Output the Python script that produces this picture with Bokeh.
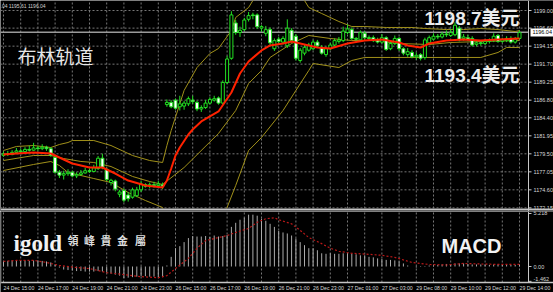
from bokeh.plotting import figure
from bokeh.layouts import column
from bokeh.models import Range1d, Label, ColumnDataSource
from bokeh.embed import file_html
from bokeh.resources import INLINE
from bokeh.core.properties import value

# ---------------- data (15-minute bars) ----------------
opens = [1179.3, 1179.5, 1179.4, 1179.7, 1179.9, 1179.8, 1180.1, 1180.0, 1180.3, 1180.2,
         1180.4, 1180.2, 1179.0, 1177.0, 1176.6, 1176.8, 1177.0, 1176.5, 1176.7, 1176.9,
         1177.2, 1177.1, 1177.5, 1178.9, 1177.4, 1175.6, 1175.8, 1174.0, 1174.5, 1173.9,
         1173.6, 1173.8, 1174.6, 1175.3, 1175.1, 1175.3, 1175.2, 1175.3,
         1186.2, 1186.5, 1186.8, 1185.9, 1186.0, 1186.3, 1186.8, 1186.5, 1185.6, 1185.8,
         1186.4, 1186.8, 1187.1, 1186.4, 1189.2, 1192.5, 1197.3, 1196.0, 1196.4, 1197.8,
         1198.4, 1198.4, 1196.6, 1195.9, 1196.4, 1193.8, 1195.1, 1194.7, 1194.2, 1196.3,
         1195.5, 1192.2, 1193.2, 1193.6, 1193.8, 1194.7, 1194.0, 1193.0, 1193.8, 1194.3,
         1194.8, 1194.9, 1196.0, 1196.4, 1195.2, 1195.0, 1195.9, 1195.3, 1195.3, 1195.0,
         1194.7, 1195.3, 1193.8, 1194.5, 1195.2, 1193.8, 1193.0, 1193.3, 1192.7, 1193.0,
         1192.6, 1194.6, 1195.1, 1195.5, 1195.4, 1195.8, 1195.6, 1195.7, 1196.6, 1195.2,
         1195.3, 1195.2, 1194.4, 1194.6, 1194.5, 1194.8, 1194.9, 1195.6, 1194.8, 1194.9,
         1195.2, 1194.7, 1195.2]
highs = [1179.8, 1179.9, 1180.0, 1180.3, 1180.2, 1180.4, 1180.6, 1181.0, 1180.6, 1180.8,
         1180.6, 1180.4, 1179.2, 1177.3, 1177.2, 1177.4, 1177.2, 1177.0, 1177.3, 1177.6,
         1177.5, 1178.0, 1179.2, 1179.5, 1177.6, 1176.1, 1176.0, 1174.6, 1174.8, 1174.3,
         1174.9, 1175.0, 1175.8, 1175.5, 1175.6, 1175.7, 1175.8, 1175.6,
         1186.9, 1186.8, 1187.0, 1187.4, 1186.7, 1187.3, 1187.4, 1186.7, 1186.1, 1186.8,
         1187.2, 1187.4, 1187.3, 1189.5, 1192.8, 1198.9, 1197.7, 1196.8, 1198.0, 1198.8,
         1198.7, 1198.6, 1197.0, 1196.9, 1196.7, 1195.2, 1195.4, 1195.5, 1197.8, 1196.6,
         1195.8, 1193.9, 1194.3, 1194.6, 1195.0, 1195.0, 1194.3, 1194.1, 1194.6, 1195.2,
         1195.4, 1196.8, 1197.1, 1196.7, 1195.4, 1196.3, 1196.2, 1195.6, 1195.6, 1195.3,
         1195.8, 1195.5, 1194.9, 1195.6, 1195.4, 1194.0, 1193.9, 1193.6, 1193.3, 1193.2,
         1195.3, 1195.6, 1195.9, 1195.8, 1196.1, 1196.3, 1196.5, 1197.4, 1196.9, 1195.8,
         1195.7, 1195.5, 1194.9, 1194.9, 1195.1, 1195.2, 1195.9, 1195.8, 1195.3, 1195.5,
         1195.5, 1195.4, 1196.3]
lows = [1179.1, 1179.2, 1179.3, 1179.5, 1179.6, 1179.7, 1179.8, 1179.9, 1179.9, 1180.0,
        1179.9, 1179.1, 1176.8, 1176.2, 1176.0, 1176.5, 1176.3, 1176.2, 1176.5, 1176.8,
        1176.9, 1177.0, 1177.3, 1177.4, 1175.8, 1175.2, 1174.4, 1173.6, 1172.9, 1173.0,
        1173.4, 1173.6, 1174.3, 1174.9, 1174.8, 1174.9, 1175.0, 1174.7,
        1185.9, 1185.7, 1185.5, 1185.4, 1185.5, 1186.0, 1186.3, 1185.3, 1185.2, 1185.6,
        1186.2, 1186.6, 1186.2, 1186.2, 1189.0, 1192.3, 1195.7, 1195.4, 1196.2, 1197.5,
        1197.8, 1196.5, 1196.1, 1195.5, 1194.3, 1193.5, 1194.5, 1194.4, 1193.9, 1194.6,
        1192.2, 1191.9, 1192.9, 1193.4, 1193.6, 1194.0, 1193.0, 1192.7, 1193.6, 1194.1,
        1194.5, 1194.7, 1195.8, 1195.0, 1194.9, 1194.8, 1195.1, 1194.9, 1194.7, 1194.5,
        1194.5, 1193.5, 1193.6, 1194.3, 1193.5, 1192.9, 1192.7, 1192.5, 1192.3, 1192.2,
        1192.3, 1194.3, 1194.9, 1195.1, 1195.2, 1195.4, 1195.4, 1195.5, 1194.8, 1194.9,
        1194.9, 1194.1, 1194.1, 1194.2, 1194.3, 1194.5, 1194.7, 1194.6, 1194.6, 1194.7,
        1194.5, 1194.5, 1195.0]
closes = [1179.5, 1179.4, 1179.7, 1179.9, 1179.8, 1180.1, 1180.0, 1180.3, 1180.2, 1180.4,
          1180.2, 1179.3, 1177.0, 1176.6, 1176.8, 1177.0, 1176.5, 1176.7, 1176.9, 1177.2,
          1177.1, 1177.6, 1178.9, 1177.6, 1176.0, 1175.9, 1174.7, 1174.3, 1173.2, 1173.4,
          1174.6, 1174.6, 1175.4, 1175.1, 1175.3, 1175.2, 1175.4, 1175.1,
          1186.5, 1185.9, 1185.7, 1186.3, 1186.4, 1187.0, 1186.6, 1185.6, 1185.8, 1186.4,
          1186.9, 1187.0, 1186.4, 1189.2, 1192.4, 1198.4, 1196.0, 1196.3, 1197.7, 1198.3,
          1198.3, 1196.8, 1196.8, 1196.4, 1194.6, 1194.9, 1194.8, 1195.2, 1196.6, 1194.9,
          1192.5, 1193.6, 1194.0, 1194.3, 1194.7, 1194.2, 1193.2, 1193.8, 1194.3, 1194.9,
          1195.0, 1196.2, 1196.5, 1195.2, 1195.1, 1196.0, 1195.3, 1195.2, 1194.9, 1194.7,
          1195.3, 1193.7, 1194.5, 1195.2, 1193.8, 1193.2, 1193.4, 1192.7, 1192.9, 1192.5,
          1195.0, 1195.3, 1195.5, 1195.4, 1195.8, 1195.7, 1196.0, 1197.0, 1195.0, 1195.4,
          1195.1, 1194.3, 1194.6, 1194.5, 1194.8, 1194.9, 1195.5, 1194.8, 1195.0, 1195.2,
          1194.7, 1195.1, 1196.0]

# fast moving average (red), read at bar indices
ma_idx = [0, 3, 7, 11, 13, 16, 20, 23, 26, 29, 33, 37, 38, 39, 40, 41, 43, 44, 46, 50, 53, 55,
          57, 60, 62, 65, 67, 69, 73, 76, 80, 84, 88, 92, 94, 97, 99, 103, 107, 111, 115, 120]
ma_val = [1179.41, 1179.54, 1179.68, 1179.54, 1179.00, 1178.18, 1177.64, 1177.64, 1176.82, 1175.87,
          1175.19, 1174.92, 1175.87, 1177.50, 1179.27, 1180.36, 1182.13, 1182.81, 1183.90, 1185.26,
          1187.84, 1190.43, 1192.06, 1193.56, 1194.24, 1194.51, 1194.78, 1194.51, 1193.97, 1193.83,
          1194.51, 1194.92, 1195.05, 1194.65, 1194.24, 1193.97, 1194.51, 1194.92, 1195.05, 1194.92,
          1195.05, 1195.19]

# Bollinger bands (upper / middle / lower), read at bar indices
bb_up_idx = [0, 3, 7, 11, 13, 15, 16, 21, 25, 30, 34, 37, 38, 39, 42, 45, 48, 50, 53, 54, 57, 58,
             60, 63, 66, 69, 70, 71, 74, 78, 81, 84, 89, 95, 98, 103, 107, 111, 115, 119, 120]
bb_up_val = [1179.95, 1180.50, 1180.63, 1180.36, 1180.77, 1181.04, 1181.31, 1181.31, 1180.63, 1179.27,
             1178.59, 1178.32, 1180.63, 1182.67, 1188.12, 1191.24, 1193.15, 1193.83, 1196.28, 1198.05,
             1199.41, 1200.36, 1201.30, 1201.90, 1201.70, 1200.90, 1200.36, 1199.41, 1198.59, 1197.50,
             1196.82, 1196.82, 1196.69, 1196.69, 1196.55, 1196.41, 1196.41, 1196.55, 1196.41, 1196.14,
             1196.28]
bb_mid_idx = [0, 7, 11, 14, 18, 21, 25, 30, 34, 37, 42, 50, 54, 57, 60, 62, 67, 71, 76, 81, 86,
              92, 99, 104, 111, 120]
bb_mid_val = [1178.59, 1179.27, 1179.27, 1178.86, 1178.46, 1178.32, 1177.77, 1176.42, 1175.73, 1175.33,
              1177.64, 1182.27, 1185.39, 1189.07, 1190.84, 1192.61, 1194.51, 1195.60, 1195.19, 1194.92,
              1194.92, 1194.51, 1194.37, 1194.65, 1194.78, 1194.92]
bb_low_idx = [0, 7, 11, 13, 15, 21, 25, 29, 33, 37, 38, 42, 46, 50, 52, 54, 57, 60, 65, 68, 71,
              72, 75, 78, 81, 84, 90, 104, 111, 115, 117, 120]
bb_low_val = [1177.23, 1178.05, 1178.46, 1177.91, 1176.96, 1176.14, 1175.60, 1174.24, 1173.15, 1172.20,
              1170.00, 1167.20, 1168.00, 1170.71, 1172.20, 1175.19, 1179.95, 1181.72, 1185.39, 1188.12,
              1190.84, 1191.79, 1191.52, 1191.24, 1192.20, 1192.61, 1192.61, 1192.61, 1192.61, 1193.29,
              1193.97, 1193.97]

# MACD histogram (one value per bar) and signal line
macd_hist = [0.5, 0.55, 0.6, 0.6, 0.6, 0.6, 0.55, 0.6, 0.6, 0.55, 0.5, 0.4, 0.2,
             -0.1, -0.3, -0.35, -0.4, -0.45, -0.45, -0.5, -0.5, -0.5, -0.45, -0.5, -0.6, -0.7,
             -0.8, -0.9, -1.15, -1.1, -1.05, -1.0, -0.95, -0.95, -1.0, -1.0, -1.05, -1.05,
             0.1, 0.95, 1.8, 2.0, 2.4, 2.8, 3.0, 2.95, 2.95, 3.0, 2.9, 3.05, 2.95, 3.0, 3.1,
             3.9, 4.3, 4.6, 4.8, 5.1, 5.1, 5.0, 4.7, 4.5, 4.2, 3.9, 3.5, 3.35, 3.25, 3.05, 2.75,
             2.4, 2.1, 1.8, 1.8, 1.6, 1.3, 1.25, 1.3, 1.25, 1.25, 1.3, 1.3, 1.25, 1.2, 1.1, 1.1,
             0.95, 0.9, 0.8, 0.75, 0.65, 0.65, 0.6, 0.5, 0.3, 0.1, 0.0, -0.1, -0.05, 0.05, 0.1,
             0.1, 0.15, 0.2, 0.25, 0.25, 0.3, 0.3, 0.3, 0.25, 0.2, 0.2, 0.2, 0.2, 0.15, 0.2, 0.2,
             0.15, 0.15, 0.15, 0.15, 0.2]
sig_idx = [0, 3, 7, 10, 13, 17, 20, 24, 28, 32, 36, 38, 40, 43, 45, 47, 50, 52, 54, 57, 59, 61,
           63, 64, 67, 69, 71, 74, 76, 78, 81, 85, 88, 91, 95, 99, 103, 107, 111, 115, 119, 120]
sig_val = [0.5, 0.6, 0.6, 0.4, 0.1, -0.1, -0.2, -0.6, -0.8, -1.0, -1.1, -0.9, -0.2, 0.8, 1.8, 2.55,
           2.85, 3.05, 3.35, 3.75, 4.35, 4.7, 4.8, 4.6, 4.2, 3.55, 2.85, 2.25, 1.8, 1.5, 1.3, 1.2,
           1.1, 0.9, 0.4, 0.2, 0.15, 0.3, 0.25, 0.2, 0.2, 0.2]

price_ticks = [1199.00, 1196.60, 1194.15, 1191.70, 1189.25, 1186.80, 1184.40, 1181.95,
               1179.50, 1177.05, 1174.60, 1172.15]
price_tick_labels = ["1199.00", "1196.60", "1194.15", "1191.70", "1189.25", "1186.80", "1184.40",
                     "1181.95", "1179.50", "1177.05", "1174.60", "1172.15"]
macd_ticks = [5.218, 0.0, -1.462]
macd_tick_labels = ["5.218", "0.00", "-1.462"]
time_label_bars = [0, 8, 16, 24, 32, 40, 48, 56, 64, 72, 80, 88, 96, 104, 112, 120]
time_labels = ["24 Dec 15:00", "24 Dec 17:00", "24 Dec 19:00", "24 Dec 21:00", "24 Dec 23:00",
               "26 Dec 15:00", "26 Dec 17:00", "26 Dec 19:00", "26 Dec 21:00", "26 Dec 23:00",
               "27 Dec 01:00", "27 Dec 03:00", "29 Dec 08:00", "29 Dec 10:00", "29 Dec 12:00",
               "29 Dec 14:00"]
last_price = 1196.04
last_price_label = "1196.04"

# ---------------- placement helpers (page pixel -> data) ----------------
def px(x):
    return (x - 3) / 4.3

def py(y):
    return 1199 - (y - 10) / 7.35

def my(y):
    return (266 - y) / 10.16

LIME = "#22e022"
BAND = "#a0901a"
GRIDC = "#767676"
AXC = "#c8c8c8"
SEPC = "#c4c4c4"
LBL = "#d8d8d8"
LBL_FONT = "Liberation Sans"

n = len(closes)
xs = list(range(n))
grid_bars = list(range(0, 121, 4))
XR = (px(0), px(553))
MAIN_H, MACD_H = 211, 81
Y0, Y1 = py(MAIN_H), py(0)
M0, M1 = my(292), my(MAIN_H)

common = dict(width=553, output_backend="svg", toolbar_location=None, x_axis_location=None,
              y_axis_location=None, min_border_left=0, min_border_right=0, min_border_top=0,
              min_border_bottom=0, background_fill_color="black", border_fill_color="black",
              outline_line_color=None)

# ---------------- main price panel ----------------
main = figure(height=MAIN_H, x_range=Range1d(*XR), y_range=Range1d(Y0, Y1), **common)
main.grid.visible = False

main.segment(x0=[px(0)] * len(price_ticks), y0=price_ticks, x1=[px(528)] * len(price_ticks),
             y1=price_ticks, line_color=GRIDC, line_dash="2 2", line_width=1)
main.segment(x0=grid_bars, y0=[py(208)] * len(grid_bars), x1=grid_bars, y1=[Y1] * len(grid_bars),
             line_color=GRIDC, line_dash="2 2", line_width=1)
main.segment(x0=[px(0)], y0=[last_price], x1=[px(528)], y1=[last_price],
             line_color="#9a9a9a", line_width=1.5)

bull = [c >= o for o, c in zip(opens, closes)]
src = ColumnDataSource(dict(
    x=xs, h=highs, l=lows,
    top=[max(o, c) for o, c in zip(opens, closes)],
    bot=[min(o, c) for o, c in zip(opens, closes)],
    fill=["black" if b else "white" for b in bull]))

main.line(bb_up_idx, bb_up_val, color=BAND, line_width=1)
main.line(bb_mid_idx, bb_mid_val, color=BAND, line_width=1)
main.line(bb_low_idx, bb_low_val, color=BAND, line_width=1)
main.segment(x0="x", y0="h", x1="x", y1="l", source=src, line_color=LIME, line_width=1)
main.vbar(x="x", width=0.7, top="top", bottom="bot", fill_color="fill", line_color=LIME,
          line_width=1, source=src)
main.line(ma_idx, ma_val, color="#ff2200", line_width=2)

# price scale at the right, drawn inside the frame
main.quad(left=[px(528)], right=[px(553)], bottom=[Y0], top=[Y1], fill_color="black", line_color=None)
main.quad(left=[px(0)], right=[px(553)], bottom=[Y0], top=[py(208)], fill_color="black", line_color=None)
main.segment(x0=[px(528)], y0=[Y0], x1=[px(528)], y1=[Y1], line_color=AXC, line_width=1)
main.segment(x0=[px(528)] * len(price_ticks), y0=price_ticks, x1=[px(531)] * len(price_ticks),
             y1=price_ticks, line_color=AXC, line_width=1)
main.text(x=[px(533)] * len(price_ticks), y=price_ticks, text=price_tick_labels,
          text_font=value(LBL_FONT), text_font_size="5.5px", text_color=LBL,
          text_baseline="middle", text_align="left")
main.quad(left=[px(530)], right=[px(553)], bottom=[py(36)], top=[py(28)],
          fill_color="white", line_color=None)
main.text(x=[px(532)], y=[last_price], text=[last_price_label], text_font=value(LBL_FONT),
          text_font_size="5.5px", text_color="black", text_baseline="middle", text_align="left")
# separator between the panels
main.segment(x0=[px(0)], y0=[py(209)], x1=[px(553)], y1=[py(209)], line_color=SEPC, line_width=2)

main.add_layout(Label(x=px(0), y=py(5), text=".04 1195.61 1196.04", text_font=LBL_FONT,
                      text_font_size="5px", text_color="#d0d0d0", text_baseline="middle"))
main.add_layout(Label(x=px(17), y=py(55), text="布林轨道", text_font="Noto Sans CJK SC",
                      text_font_size="19px", text_color="#e6e6e6", text_baseline="middle"))
main.add_layout(Label(x=px(424), y=py(18), text="1198.7美元",
                      text_font="Liberation Sans, Noto Sans CJK SC", text_font_style="bold",
                      text_font_size="19px", text_color="#ececec", text_baseline="middle"))
main.add_layout(Label(x=px(424), y=py(75), text="1193.4美元",
                      text_font="Liberation Sans, Noto Sans CJK SC", text_font_style="bold",
                      text_font_size="19px", text_color="#ececec", text_baseline="middle"))

# ---------------- MACD panel ----------------
macd = figure(height=MACD_H, x_range=Range1d(*XR), y_range=Range1d(M0, M1), **common)
macd.grid.visible = False

macd.segment(x0=grid_bars, y0=[my(282)] * len(grid_bars), x1=grid_bars, y1=[M1] * len(grid_bars),
             line_color=GRIDC, line_dash="2 2", line_width=1)
macd.segment(x0=xs, y0=[0] * n, x1=xs, y1=macd_hist, line_color="#ababab", line_width=1)
macd.line(sig_idx, sig_val, color="#b81818", line_dash="2 2", line_width=1.2)

# frame lines, scale and time labels
macd.quad(left=[px(528)], right=[px(553)], bottom=[M0], top=[M1], fill_color="black", line_color=None)
macd.segment(x0=[px(0)], y0=[my(282)], x1=[px(553)], y1=[my(282)], line_color=SEPC, line_width=1.5)
macd.segment(x0=[px(528)], y0=[my(282)], x1=[px(528)], y1=[M1], line_color=AXC, line_width=1)
macd.segment(x0=[px(0.5)], y0=[my(282)], x1=[px(0.5)], y1=[M1], line_color="#5a5a5a", line_width=1)
macd.segment(x0=[px(528)] * len(macd_ticks), y0=macd_ticks, x1=[px(531)] * len(macd_ticks),
             y1=macd_ticks, line_color=AXC, line_width=1)
macd.text(x=[px(533)] * len(macd_ticks), y=[5.218, 0.0, my(278)], text=macd_tick_labels,
          text_font=value(LBL_FONT), text_font_size="5.5px", text_color=LBL,
          text_baseline="middle", text_align="left")
macd.text(x=time_label_bars, y=[my(287)] * len(time_label_bars), text=time_labels,
          text_font=value(LBL_FONT), text_font_size="5.2px", text_color=LBL,
          text_baseline="middle", text_align="left")

macd.add_layout(Label(x=px(13), y=my(243), text="igold", text_font="Liberation Serif",
                      text_font_style="bold", text_font_size="23px", text_color="#f2f2f2",
                      text_baseline="alphabetic"))
for ch, cx in zip(["領", "峰", "貴", "金", "屬"], [72.5, 89, 105.5, 122, 140]):
    macd.add_layout(Label(x=px(cx), y=my(239), text=ch, text_font="Noto Sans CJK TC",
                          text_font_style="bold", text_font_size="11px", text_color="#dcdcdc",
                          text_align="center", text_baseline="middle"))
macd.add_layout(Label(x=px(441), y=my(245), text="MACD", text_font="Liberation Sans",
                      text_font_style="bold", text_font_size="20px", text_color="#f2f2f2",
                      text_baseline="middle"))

layout = column(main, macd, spacing=0)
open("out.html", "w").write(file_html(layout, INLINE))
